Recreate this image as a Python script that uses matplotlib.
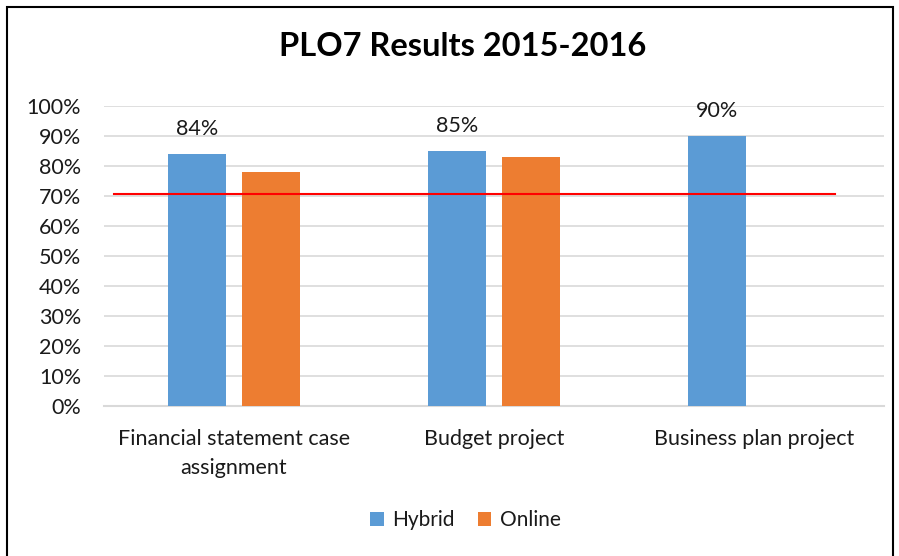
import matplotlib
matplotlib.use("Agg")
import matplotlib.pyplot as plt
import numpy as np
from matplotlib.patches import Rectangle

categories = ["Financial statement case\nassignment", "Budget project", "Business plan project"]
hybrid = [0.84, 0.85, 0.90]
online = [0.78, 0.83, np.nan]
target_value = 0.705
target_span = [-0.46, 2.31]
yticks = [0, 0.1, 0.2, 0.3, 0.4, 0.5, 0.6, 0.7, 0.8, 0.9, 1.0]
ytick_labels = ["0%", "10%", "20%", "30%", "40%", "50%", "60%", "70%", "80%", "90%", "100%"]

plt.rcParams['font.family'] = ['Lato', 'DejaVu Sans']

W, H = 899, 556
fig = plt.figure(figsize=(W/100, H/100), dpi=100)
ax = fig.add_axes([104/W, 1 - 405.7/H, 780/W, 300.2/H])

x = np.arange(len(categories))
bw = 0.223
off = 0.142
blue = "#5b9bd5"
orange = "#ed7d31"
txt = "#1a1a1a"
ax.bar(x - off, hybrid, bw, color=blue, label="Hybrid", zorder=3)
ax.bar(x + off, online, bw, color=orange, label="Online", zorder=3)

for xi, v in zip(x, hybrid):
    ax.text(xi - off, v + 0.05, f"{v*100:.0f}%", ha="center", va="bottom",
            fontsize=15.5, color=txt)

ax.plot(target_span, [target_value, target_value], color="red", lw=1.5, zorder=4)

ax.set_xlim(-0.5, 2.5)
ax.set_ylim(0, 1.0)
ax.set_yticks(yticks)
ax.set_yticklabels(ytick_labels, fontsize=15.5, color=txt)
ax.set_xticks(x)
ax.set_xticklabels(categories, fontsize=15.5, color=txt, linespacing=1.55)
ax.tick_params(axis="both", length=0)
ax.tick_params(axis="y", pad=16.5)
ax.tick_params(axis="x", pad=17)
ax.grid(axis="y", color="#d9d9d9", lw=1.2, zorder=0)
for s in ["top", "right", "left"]:
    ax.spines[s].set_visible(False)
ax.spines["bottom"].set_color("#d9d9d9")
ax.spines["bottom"].set_linewidth(1.5)

fig.text(463/W, 1 - 47/H, "PLO7 Results 2015-2016", ha="center", va="center",
         fontsize=23.5, fontweight="bold", color="black")

leg = fig.legend(loc="center", bbox_to_anchor=(465.5/W, 1 - 520/H), ncol=2, frameon=False,
                 fontsize=15, handlelength=0.65, handleheight=0.65, handletextpad=0.4,
                 columnspacing=1.1)
for t in leg.get_texts():
    t.set_color(txt)

fig.patches.append(Rectangle((7/W, -0.1), 886/W, 1.1 - 6.5/H, transform=fig.transFigure,
                             fill=False, edgecolor="black", lw=1.5))

fig.savefig("out.png", dpi=100)
